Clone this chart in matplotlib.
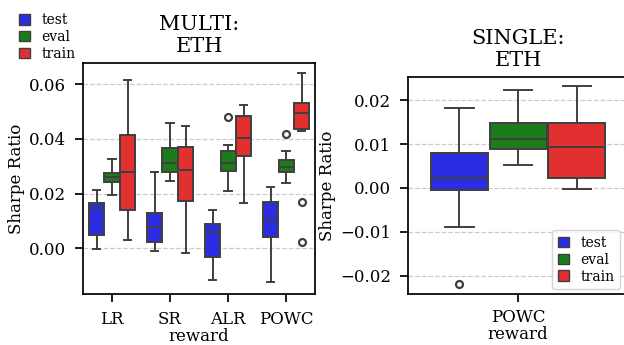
import matplotlib
matplotlib.use('Agg')
import matplotlib.pyplot as plt
from matplotlib.patches import Patch

plt.rcParams['font.family'] = 'DejaVu Serif'

splits = ['test', 'eval', 'train']
colors = ['#2c2ce2', '#1c7c1c', '#e23030']

# MULTI: ETH, rewards on x
multi_rewards = ['LR', 'SR', 'ALR', 'POWC']
# per split: (whislo, q1, med, q3, whishi) for each reward
multi_test = [(-0.0004, 0.0049, 0.0147, 0.0165, 0.0212),
              (-0.0012, 0.0021, 0.0076, 0.0129, 0.0278),
              (-0.0116, -0.0032, 0.0058, 0.0088, 0.0138),
              (-0.0126, 0.0040, 0.0104, 0.0168, 0.0223)]
multi_eval = [(0.0196, 0.0241, 0.0261, 0.0275, 0.0327),
              (0.0245, 0.0279, 0.0310, 0.0365, 0.0457),
              (0.0209, 0.0283, 0.0310, 0.0354, 0.0376),
              (0.0239, 0.0280, 0.0298, 0.0324, 0.0355)]
multi_train = [(0.0031, 0.0138, 0.0278, 0.0413, 0.0616),
               (-0.0018, 0.0174, 0.0287, 0.0371, 0.0447),
               (0.0165, 0.0337, 0.0403, 0.0485, 0.0523),
               (0.0428, 0.0437, 0.0496, 0.0531, 0.0640)]
multi_fliers = {
    'test': [[], [], [], []],
    'eval': [[], [], [0.0480], [0.0419]],
    'train': [[], [], [], [0.0168, 0.0021]],
}

# SINGLE: ETH, only POWC
single_rewards = ['POWC']
single_test = [(-0.0089, -0.0005, 0.0022, 0.0080, 0.0183)]
single_eval = [(0.0052, 0.0089, 0.0111, 0.0147, 0.0223)]
single_train = [(-0.0003, 0.0023, 0.0094, 0.0149, 0.0232)]
single_fliers = {'test': [[-0.0219]], 'eval': [[]], 'train': [[]]}


def stats_for(rows, fliers):
    out = []
    for (lo, q1, med, q3, hi), fl in zip(rows, fliers):
        out.append(dict(whislo=lo, q1=q1, med=med, q3=q3, whishi=hi, fliers=fl))
    return out


def draw_boxes(ax, cats, series, fliers, xpad=0, xtickpad=6):
    offsets = [-0.267, 0.0, 0.267]
    line = dict(color='#3f3f3f', linewidth=1.4)
    for k, name in enumerate(splits):
        st = stats_for(series[k], fliers[name])
        pos = [i + offsets[k] for i in range(len(cats))]
        ax.bxp(st, positions=pos, widths=0.26, patch_artist=True,
               boxprops=dict(facecolor=colors[k], edgecolor='#3f3f3f', linewidth=1.4),
               medianprops=line, whiskerprops=line, capprops=line,
               flierprops=dict(marker='o', markerfacecolor='none',
                               markeredgecolor='#3f3f3f', markersize=5,
                               markeredgewidth=1.6),
               manage_ticks=False)
    ax.set_xticks(range(len(cats)))
    ax.set_xticklabels(cats)
    ax.set_xlim(-0.5, len(cats) - 0.5)
    ax.set_xlabel('reward', fontsize=12, labelpad=xpad)
    ax.set_ylabel('Sharpe Ratio', fontsize=12, labelpad=3)
    ax.tick_params(axis='both', labelsize=12, length=6, width=1.25,
                   direction='out', pad=6)
    ax.tick_params(axis='x', pad=xtickpad)
    ax.yaxis.grid(True, linestyle='--', color='#cccccc', linewidth=0.9)
    ax.set_axisbelow(True)
    for s in ax.spines.values():
        s.set_linewidth(1.25)


fig = plt.figure(figsize=(6.24, 3.45), dpi=100)

ax1 = fig.add_axes([0.133, 0.148, 0.372, 0.670])
draw_boxes(ax1, multi_rewards, [multi_test, multi_eval, multi_train], multi_fliers)
ax1.set_ylim(-0.0168, 0.0679)
ax1.set_yticks([0.00, 0.02, 0.04, 0.06])
ax1.set_yticklabels(['0.00', '0.02', '0.04', '0.06'])
ax1.set_title('MULTI:\nETH', fontsize=15, pad=8)

ax2 = fig.add_axes([0.654, 0.148, 0.3526, 0.629])
draw_boxes(ax2, single_rewards, [single_test, single_eval, single_train],
           single_fliers, xpad=0, xtickpad=5)
ax2.set_ylim(-0.0242, 0.0253)
ax2.set_yticks([-0.02, -0.01, 0.00, 0.01, 0.02])
ax2.set_yticklabels(['\u22120.02', '\u22120.01', '0.00', '0.01', '0.02'])
ax2.set_title('SINGLE:\nETH', fontsize=15, pad=8)

handles = [Patch(facecolor=c, edgecolor='#3f3f3f', label=n) for c, n in zip(colors, splits)]
fig.legend(handles=handles, loc='upper left', bbox_to_anchor=(0.015, 0.99),
           frameon=False, fontsize=10, handlelength=0.8, handleheight=0.8,
           labelspacing=0.2, handletextpad=0.8, borderpad=0.2)
ax2.legend(handles=handles, loc='lower right', fontsize=10, handlelength=0.8,
           handleheight=0.8, labelspacing=0.2, handletextpad=0.8,
           borderaxespad=0.35, borderpad=0.4, bbox_to_anchor=(0.985, 0.0))

fig.savefig('out.png', dpi=100)
